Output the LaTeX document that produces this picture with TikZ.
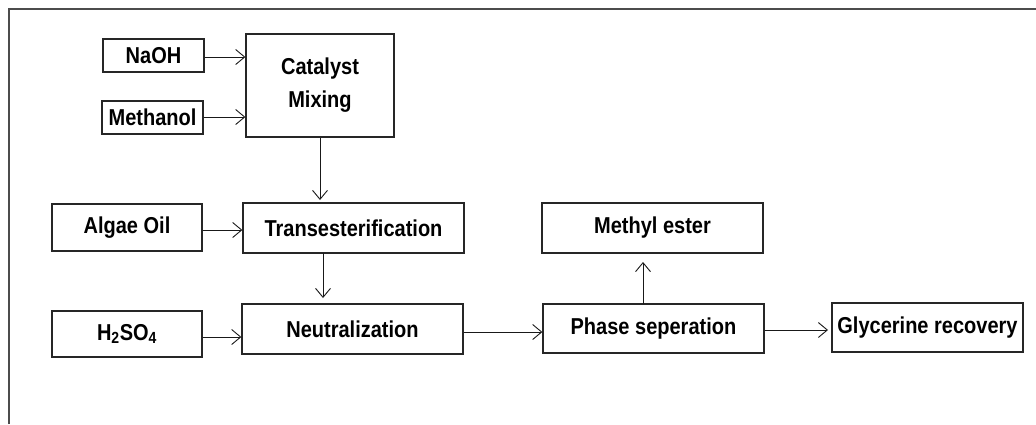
\documentclass[tikz,border=0pt]{standalone}
\usepackage{fontspec}
\newfontfamily\boxfont[FakeStretch=0.87]{Liberation Sans}
\usetikzlibrary{arrows.meta}
\begin{document}
\begin{tikzpicture}[x=1pt,y=-1pt,
  blk/.style={draw=black!85,line width=1.3pt,fill=white,inner sep=0pt,align=center,
    font=\boxfont\bfseries\fontsize{23}{33}\selectfont},
  flow/.style={draw=black!90,line width=0.9pt,-{Straight Barb[length=9pt,width=15pt,line width=0.9pt]}},
  frame/.style={draw=black!70,line width=1.5pt}]
\useasboundingbox (0,0) rectangle (1036,424);
\draw[frame] (9,424) -- (9,9) -- (1036,9);
\node[blk,minimum width=101pt,minimum height=33pt] (naoh) at (153.5,55.5) {NaOH};
\node[blk,minimum width=101pt,minimum height=33pt] (meth) at (152.5,117.5) {Methanol};
\node[blk,minimum width=148pt,minimum height=103pt] (cat) at (320,85.5) {Catalyst\\Mixing};
\node[blk,minimum width=150pt,minimum height=47pt] (algae) at (127,227.5) {Algae Oil};
\node[blk,minimum width=221pt,minimum height=50pt] (trans) at (353.5,228) {Transesterification};
\node[blk,minimum width=150pt,minimum height=46pt] (acid) at (127,334) {H\textsubscript{2}SO\textsubscript{4}};
\node[blk,minimum width=221pt,minimum height=50pt] (neut) at (352.5,329) {Neutralization};
\node[blk,minimum width=221pt,minimum height=50pt] (ester) at (652.5,228) {Methyl ester};
\node[blk,minimum width=221pt,minimum height=49pt] (phase) at (653.5,328.5) {Phase seperation};
\node[blk,minimum width=191pt,minimum height=49pt] (glyc) at (927.5,327.5) {Glycerine recovery};
\coordinate (t1) at (320,200);
\coordinate (t2) at (323,253);
\coordinate (t3) at (323,298);
\coordinate (p1) at (643,304);
\coordinate (p2) at (643,262);
\coordinate (g1) at (828,330);
\draw[flow] (naoh.east |- 0,57) -- (cat.west |- 0,57);
\draw[flow] (meth.east |- 0,117) -- (cat.west |- 0,117);
\draw[flow] (cat.south) -- (t1);
\draw[flow] (algae.east |- 0,230) -- (trans.west |- 0,230);
\draw[flow] (t2) -- (t3);
\draw[flow] (acid.east |- 0,337) -- (neut.west |- 0,337);
\draw[flow] (neut.east |- 0,332) -- (phase.west |- 0,332);
\draw[flow] (p1) -- (p2);
\draw[flow] (phase.east |- g1) -- (g1);
\end{tikzpicture}
\end{document}
